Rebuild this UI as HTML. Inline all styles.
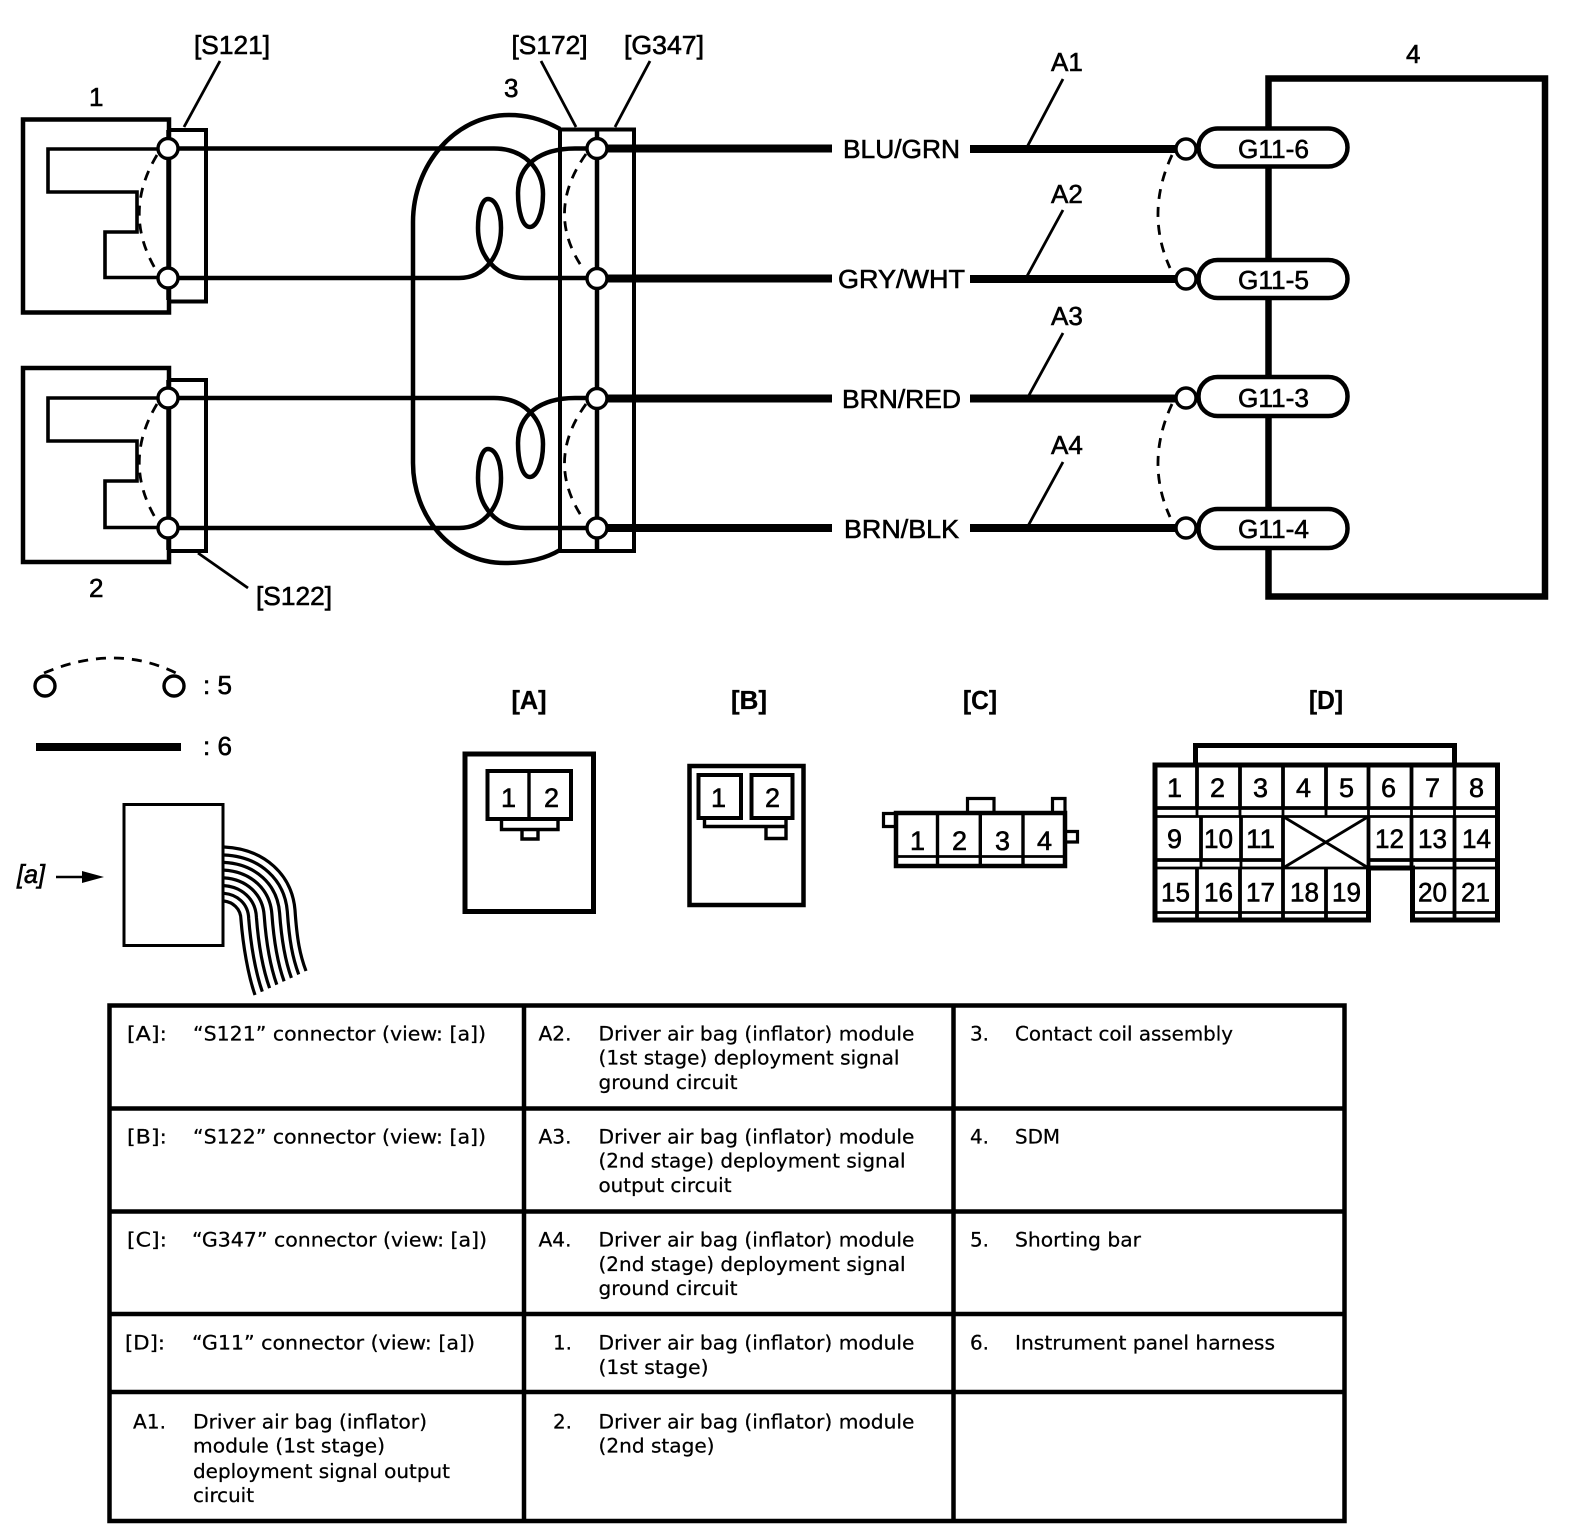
<!DOCTYPE html>
<html><head><meta charset="utf-8"><style>
html,body{margin:0;padding:0;background:#fff}
svg{display:block}
.l{font-family:"Liberation Sans",sans-serif;font-size:26px;fill:#000;stroke:#000;stroke-width:.6px}
.b{font-family:"Liberation Sans",sans-serif;font-size:26px;font-weight:bold;fill:#000;stroke:#000;stroke-width:.3px}
.t{font-family:"DejaVu Sans",sans-serif;font-size:19.5px;fill:#000;stroke:#000;stroke-width:.25px}
</style></head><body>
<svg xmlns="http://www.w3.org/2000/svg" width="1584" height="1530" viewBox="0 0 1584 1530">
<rect width="1584" height="1530" fill="#fff"/>
<g fill="none" stroke="#000" stroke-width="4.5">
<!-- coil -->
<path d="M560 129 C540 118 525 115 509 115 C455 115 413 165 413 222 V463 C413 515 450 563 505 563 C525 563 545 559 560 550"/>
<!-- module 1 -->
<rect x="23" y="119.5" width="146" height="193"/>
<path d="M169 130 H206 V301.5 H169" stroke-width="4"/>
<path d="M158 149 H48 V192 H137 V232 H105 V277.5 H158" stroke-width="3.6"/>
<path d="M168.5 130 V300" stroke-width="4.5"/>
<!-- module 2 -->
<rect x="23" y="368" width="146" height="194"/>
<path d="M169 380 H206 V551 H169" stroke-width="4"/>
<path d="M158 398 H48 V441 H137 V481 H105 V527.5 H158" stroke-width="3.6"/>
<path d="M168.5 380 V550" stroke-width="4.5"/>
<!-- S172 G347 block -->
<rect x="560" y="129.5" width="74" height="421.5" stroke-width="4"/>
<path d="M597 129 V551" stroke-width="4.5"/>
<!-- wires -->
<path d="M168 148.5 H494 C525 148.5 543 170 543 194 C543 215 536 227 530 227 C522 227 518 210 518 193 C518 165 540 148.5 575 148.5 H597" />
<path d="M168 278 H459 C485 278 501 255 501 228 C501 210 495 199 488 199 C482 199 478 212 478 228 C478 255 495 278 525 278 H597"/>
<path d="M168 398 H494 C525 398 543 420 543 444 C543 465 536 477 530 477 C522 477 518 460 518 443 C518 415 540 398 575 398 H597"/>
<path d="M168 528 H459 C485 528 501 505 501 478 C501 460 495 449 488 449 C482 449 478 462 478 478 C478 505 495 528 525 528 H597"/>
<!-- thick wires -->
<g stroke-width="8">
<path d="M600 148.5 H832 M970 149 H1176"/>
<path d="M600 278.5 H832 M970 279 H1176"/>
<path d="M600 398.5 H832 M970 398.5 H1176"/>
<path d="M600 528 H832 M970 528 H1176"/>
</g>
<!-- leaders -->
<g stroke-width="2.8">
<path d="M220 61 L184 127"/>
<path d="M541 61 L576 127"/>
<path d="M650 61 L615 127"/>
<path d="M198 553 L248 588"/>
<path d="M1063 79 L1026 149"/>
<path d="M1063 210 L1026 278"/>
<path d="M1063 333 L1028 397"/>
<path d="M1063 462 L1028 526"/>
</g>
<!-- box 4 -->
<rect x="1268.5" y="78.5" width="276.5" height="518" stroke-width="6.5"/>
<!-- pills -->
<g fill="#fff" stroke-width="4.5">
<rect x="1198.5" y="128.5" width="149" height="38" rx="19"/>
<rect x="1198.5" y="260" width="149" height="38" rx="19"/>
<rect x="1198.5" y="377" width="149" height="39" rx="19"/>
<rect x="1198.5" y="509" width="149" height="39" rx="19"/>
</g>
<!-- dashes -->
<g stroke-width="2.8" stroke-dasharray="10 8">
<path d="M157 155 Q122 213 156 270"/>
<path d="M157 404 Q122 462 156 519"/>
<path d="M586 154 Q544 213 584 270"/>
<path d="M586 404 Q544 462 584 520"/>
<path d="M1172 155 Q1145 213 1170 268"/>
<path d="M1172 404 Q1145 462 1170 517"/>
<path d="M44 673 Q115 643 176 673"/>
</g>
<!-- circles -->
<g fill="#fff" stroke-width="3.4">
<circle cx="168" cy="148.5" r="10"/><circle cx="168" cy="278" r="10"/>
<circle cx="168" cy="398" r="10"/><circle cx="168" cy="528" r="10"/>
<circle cx="597" cy="148.5" r="10"/><circle cx="597" cy="278.5" r="10"/>
<circle cx="597" cy="398.5" r="10"/><circle cx="597" cy="528" r="10"/>
<circle cx="1186" cy="149" r="10"/><circle cx="1186" cy="279" r="10"/>
<circle cx="1186" cy="398" r="10"/><circle cx="1186" cy="528" r="10"/>
<circle cx="45" cy="686" r="10"/><circle cx="174" cy="686" r="10"/>
</g>
<!-- legend -->
<path d="M36 747 H181" stroke-width="8"/>
<rect x="124" y="804.5" width="99" height="141" stroke-width="3"/>
<path d="M56 877 H85" stroke-width="2.5"/>
<path d="M82 871 L104 877 L82 883 Z" fill="#000" stroke="none"/>
<g stroke-width="3.2">
<path d="M224 847 C265 849 292 875 295 910 C297 940 300 955 306 971"/>
<path d="M224 855 C260.3 856.6 284.7 879.7 287.3 911.4 C289.3 940.7 292.6 957.9 298.7 974.4"/>
<path d="M224 862.4 C255.6 864.1 277.4 884.4 279.6 912.9 C281.6 941.4 285.1 960.7 291.4 977.9"/>
<path d="M224 870.1 C250.9 871.7 270.1 889.1 271.9 914.3 C273.9 942.1 277.7 963.6 284.1 981.3"/>
<path d="M224 877.9 C246.2 879.3 262.8 893.8 264.2 915.7 C266.2 942.9 270.3 966.4 276.8 984.7"/>
<path d="M224 885.6 C241.4 886.9 255.6 898.6 256.4 917.1 C258.4 943.6 262.9 969.3 269.6 988.1"/>
<path d="M224 893.3 C236.7 894.4 248.3 903.3 248.7 918.6 C250.7 944.3 255.4 972.1 262.3 991.6"/>
<path d="M224 901 C232 902 241 908 241 920 C243 945 248 975 255 995"/>
</g>
<!-- A connector -->
<rect x="465" y="754" width="128.5" height="157.5" stroke-width="5"/>
<rect x="487.5" y="771" width="83.5" height="48" stroke-width="4"/>
<path d="M529 771 V819 " stroke-width="3.4"/>
<path d="M501.5 819 V829.5 H558 V819 M522 829.5 V839 H538 V829.5" stroke-width="3.4"/>
<!-- B connector -->
<rect x="689.5" y="766" width="114" height="139" stroke-width="4.5"/>
<rect x="698.5" y="775" width="42.5" height="43" stroke-width="4"/>
<rect x="751.5" y="775" width="41" height="43" stroke-width="4"/>
<path d="M704.5 818 V826.5 H786 V818 M766 826.5 V838.5 H786 V826.5" stroke-width="3.4"/>
<!-- C connector -->
<rect x="896" y="813" width="169" height="53" stroke-width="4.5"/>
<path d="M937.5 813 V866 M980.3 813 V866 M1023 813 V866" stroke-width="3.4"/>
<path d="M896 856.5 H1065" stroke-width="2.8"/>
<path d="M894 813.5 H883.5 V826.5 H894 M967.5 811 V798.5 H994 V811 M1052.5 811 V798.5 H1065 V811 M1067 831.5 H1077.5 V842 H1067" stroke-width="3.2"/>
<!-- D connector -->
<path d="M1195.5 765 V745.5 H1454.5 V765" stroke-width="5"/>
<path d="M1155 765 H1497.5 V920 H1412.5 V868 H1368.5 V920 H1155 Z" stroke-width="5"/>
<g stroke-width="3.8">
<path d="M1155 808 H1497.5"/>
<path d="M1155 860 H1283 M1368.5 860 H1497.5"/>
<path d="M1197 765 V808 M1240 765 V808 M1283 765 V808 M1326 765 V808 M1368.5 765 V808 M1411.5 765 V808 M1454.5 765 V808"/>
<path d="M1201 816 V860 M1241 816 V860 M1283 816 V868 M1368.5 816 V868 M1411.5 816 V868 M1454.5 816 V868"/>
<path d="M1197 868 V920 M1240 868 V920 M1283 868 V920 M1326 868 V920 M1454.5 868 V920"/>
</g>
<g stroke-width="2.8">
<path d="M1155 816.5 H1497.5"/>
<path d="M1155 868 H1368.5 M1412 868 H1497.5"/>
<path d="M1155 912.5 H1368.5 M1412.5 912.5 H1497.5"/>
<path d="M1197 808 V816 M1240 808 V816 M1283 808 V816 M1326 808 V816 M1368.5 808 V816 M1411.5 808 V816 M1454.5 808 V816 M1201 860 V868 M1241 860 V868"/>
<path d="M1283 816.5 L1368.5 868 M1368.5 816.5 L1283 868"/>
</g>
<!-- table -->
<g stroke-width="4.5">
<rect x="109.5" y="1005.5" width="1235" height="515.5"/>
<path d="M109.5 1108.5 H1344.5 M109.5 1211.5 H1344.5 M109.5 1314 H1344.5 M109.5 1392 H1344.5"/>
<path d="M524 1005.5 V1521 M953.5 1005.5 V1521"/>
</g>
</g>
<!-- diagram labels -->
<g class="l">
<text x="194" y="54" textLength="76" lengthAdjust="spacingAndGlyphs">[S121]</text>
<text x="511.5" y="54" textLength="76" lengthAdjust="spacingAndGlyphs">[S172]</text>
<text x="624" y="54" textLength="80" lengthAdjust="spacingAndGlyphs">[G347]</text>
<text x="256" y="605" textLength="76" lengthAdjust="spacingAndGlyphs">[S122]</text>
<text x="89" y="106">1</text><text x="89" y="597">2</text>
<text x="504" y="97">3</text><text x="1406" y="63">4</text>
<text x="1051" y="71">A1</text><text x="1051" y="203">A2</text>
<text x="1051" y="325">A3</text><text x="1051" y="454">A4</text>
<text x="843" y="158" textLength="117" lengthAdjust="spacingAndGlyphs">BLU/GRN</text>
<text x="838" y="288" textLength="127" lengthAdjust="spacingAndGlyphs">GRY/WHT</text>
<text x="842" y="408" textLength="119" lengthAdjust="spacingAndGlyphs">BRN/RED</text>
<text x="844" y="538" textLength="115" lengthAdjust="spacingAndGlyphs">BRN/BLK</text>
<text x="1238" y="158" textLength="71" lengthAdjust="spacingAndGlyphs">G11-6</text>
<text x="1238" y="289" textLength="71" lengthAdjust="spacingAndGlyphs">G11-5</text>
<text x="1238" y="407" textLength="71" lengthAdjust="spacingAndGlyphs">G11-3</text>
<text x="1238" y="538" textLength="71" lengthAdjust="spacingAndGlyphs">G11-4</text>
<text x="203" y="694">: 5</text><text x="203" y="755">: 6</text>
<text x="17" y="883" font-style="italic" textLength="28" lengthAdjust="spacingAndGlyphs">[a]</text>
<g style="font-size:27px">
<text x="501" y="807">1</text><text x="544" y="807">2</text>
<text x="711" y="807">1</text><text x="765" y="807">2</text>
<text x="910" y="850">1</text><text x="952" y="850">2</text><text x="995" y="850">3</text><text x="1037" y="850">4</text>
<text x="1167" y="797">1</text><text x="1210" y="797">2</text><text x="1253" y="797">3</text><text x="1296" y="797">4</text><text x="1339" y="797">5</text><text x="1381" y="797">6</text><text x="1425" y="797">7</text><text x="1469" y="797">8</text>
<text x="1167" y="848">9</text>
<text x="1204" y="848" textLength="29" lengthAdjust="spacingAndGlyphs">10</text>
<text x="1246" y="848" textLength="29" lengthAdjust="spacingAndGlyphs">11</text>
<text x="1375" y="848" textLength="29" lengthAdjust="spacingAndGlyphs">12</text>
<text x="1418" y="848" textLength="29" lengthAdjust="spacingAndGlyphs">13</text>
<text x="1462" y="848" textLength="29" lengthAdjust="spacingAndGlyphs">14</text>
<text x="1161" y="901.5" textLength="29" lengthAdjust="spacingAndGlyphs">15</text>
<text x="1204" y="901.5" textLength="29" lengthAdjust="spacingAndGlyphs">16</text>
<text x="1246" y="901.5" textLength="29" lengthAdjust="spacingAndGlyphs">17</text>
<text x="1290" y="901.5" textLength="29" lengthAdjust="spacingAndGlyphs">18</text>
<text x="1332" y="901.5" textLength="29" lengthAdjust="spacingAndGlyphs">19</text>
<text x="1418" y="901.5" textLength="29" lengthAdjust="spacingAndGlyphs">20</text>
<text x="1461" y="901.5" textLength="29" lengthAdjust="spacingAndGlyphs">21</text>
</g>
</g>
<g class="b">
<text x="511.5" y="709" textLength="35" lengthAdjust="spacingAndGlyphs">[A]</text>
<text x="731" y="709" textLength="36" lengthAdjust="spacingAndGlyphs">[B]</text>
<text x="963" y="709" textLength="34" lengthAdjust="spacingAndGlyphs">[C]</text>
<text x="1309" y="709" textLength="34" lengthAdjust="spacingAndGlyphs">[D]</text>
</g>
<!-- table text -->
<g class="t">
<text x="127" y="1040.4" textLength="40" lengthAdjust="spacingAndGlyphs">[A]:</text>
<text x="193" y="1040.4" textLength="293" lengthAdjust="spacingAndGlyphs">“S121” connector (view: [a])</text>
<text x="538.5" y="1040.4" textLength="33" lengthAdjust="spacingAndGlyphs">A2.</text>
<text x="598.5" y="1040.4" textLength="316" lengthAdjust="spacingAndGlyphs">Driver air bag (inflator) module</text>
<text x="598.5" y="1064.7" textLength="301" lengthAdjust="spacingAndGlyphs">(1st stage) deployment signal</text>
<text x="598.5" y="1089" textLength="139" lengthAdjust="spacingAndGlyphs">ground circuit</text>
<text x="970" y="1040.4" textLength="19" lengthAdjust="spacingAndGlyphs">3.</text>
<text x="1015" y="1040.4" textLength="218" lengthAdjust="spacingAndGlyphs">Contact coil assembly</text>

<text x="127" y="1143.5" textLength="40" lengthAdjust="spacingAndGlyphs">[B]:</text>
<text x="193" y="1143.5" textLength="293" lengthAdjust="spacingAndGlyphs">“S122” connector (view: [a])</text>
<text x="538.5" y="1143.5" textLength="33" lengthAdjust="spacingAndGlyphs">A3.</text>
<text x="598.5" y="1143.5" textLength="316" lengthAdjust="spacingAndGlyphs">Driver air bag (inflator) module</text>
<text x="598.5" y="1167.7" textLength="307" lengthAdjust="spacingAndGlyphs">(2nd stage) deployment signal</text>
<text x="598.5" y="1192" textLength="133" lengthAdjust="spacingAndGlyphs">output circuit</text>
<text x="970" y="1143.5" textLength="19" lengthAdjust="spacingAndGlyphs">4.</text>
<text x="1015" y="1143.5" textLength="45" lengthAdjust="spacingAndGlyphs">SDM</text>

<text x="127" y="1246.5" textLength="40" lengthAdjust="spacingAndGlyphs">[C]:</text>
<text x="192" y="1246.5" textLength="295" lengthAdjust="spacingAndGlyphs">“G347” connector (view: [a])</text>
<text x="538.5" y="1246.5" textLength="33" lengthAdjust="spacingAndGlyphs">A4.</text>
<text x="598.5" y="1246.5" textLength="316" lengthAdjust="spacingAndGlyphs">Driver air bag (inflator) module</text>
<text x="598.5" y="1270.8" textLength="307" lengthAdjust="spacingAndGlyphs">(2nd stage) deployment signal</text>
<text x="598.5" y="1295" textLength="139" lengthAdjust="spacingAndGlyphs">ground circuit</text>
<text x="970" y="1246.5" textLength="19" lengthAdjust="spacingAndGlyphs">5.</text>
<text x="1015" y="1246.5" textLength="126" lengthAdjust="spacingAndGlyphs">Shorting bar</text>

<text x="125" y="1349.6" textLength="40" lengthAdjust="spacingAndGlyphs">[D]:</text>
<text x="192" y="1349.6" textLength="283" lengthAdjust="spacingAndGlyphs">“G11” connector (view: [a])</text>
<text x="553" y="1349.6" textLength="19" lengthAdjust="spacingAndGlyphs">1.</text>
<text x="598.5" y="1349.6" textLength="316" lengthAdjust="spacingAndGlyphs">Driver air bag (inflator) module</text>
<text x="598.5" y="1373.8" textLength="110" lengthAdjust="spacingAndGlyphs">(1st stage)</text>
<text x="970" y="1349.6" textLength="19" lengthAdjust="spacingAndGlyphs">6.</text>
<text x="1015" y="1349.6" textLength="260" lengthAdjust="spacingAndGlyphs">Instrument panel harness</text>

<text x="133" y="1428.3" textLength="33" lengthAdjust="spacingAndGlyphs">A1.</text>
<text x="193" y="1428.3" textLength="234" lengthAdjust="spacingAndGlyphs">Driver air bag (inflator)</text>
<text x="193" y="1452.6" textLength="192" lengthAdjust="spacingAndGlyphs">module (1st stage)</text>
<text x="193" y="1477.9" textLength="257" lengthAdjust="spacingAndGlyphs">deployment signal output</text>
<text x="193" y="1502.1" textLength="61" lengthAdjust="spacingAndGlyphs">circuit</text>
<text x="553" y="1428.3" textLength="19" lengthAdjust="spacingAndGlyphs">2.</text>
<text x="598.5" y="1428.3" textLength="316" lengthAdjust="spacingAndGlyphs">Driver air bag (inflator) module</text>
<text x="598.5" y="1452.6" textLength="116" lengthAdjust="spacingAndGlyphs">(2nd stage)</text>
</g>
</svg>
</body></html>
